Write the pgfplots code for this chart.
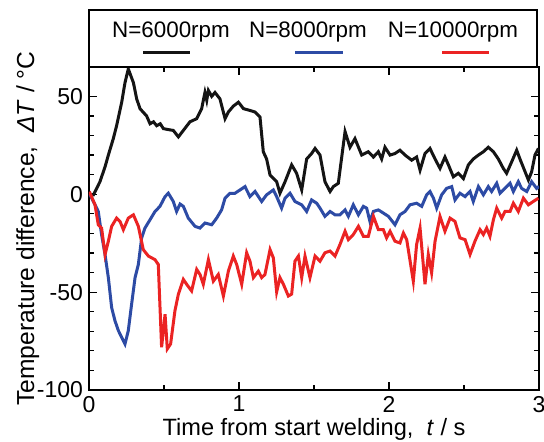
\documentclass[border=0pt]{standalone}
\usepackage{fontspec}
\setmainfont{Liberation Sans}
\usepackage{pgfplots}
\pgfplotsset{compat=1.18}

\definecolor{c6k}{RGB}{20,20,20}
\definecolor{c8k}{RGB}{45,75,165}
\definecolor{c10k}{RGB}{235,35,35}

\begin{document}
\fontsize{11.5}{14}\selectfont
\begin{tikzpicture}
\path[use as bounding box] (-44.5pt,-26pt) rectangle (227.5pt,195pt);
\begin{axis}[
  at={(0pt,0pt)}, anchor=south west,
  scale only axis,
  width=225pt, height=161.5pt,
  xmin=0, xmax=3, ymin=-100, ymax=65,
  xtick={0,1,2,3}, ytick={-100,-50,0,50},
  minor x tick num=1, minor y tick num=4,
  tick align=inside,
  major tick length=4pt, minor tick length=2.5pt,
  axis line style={line width=0.7pt},
  every tick/.style={line width=0.6pt, black},
  /pgf/number format/assume math mode=true,
  ticklabel style={font=\fontsize{11.5}{14}\selectfont},
  xlabel style={font=\fontsize{11.8}{14}\selectfont, yshift=5pt},
  ylabel style={font=\fontsize{12.3}{14}\selectfont, yshift=-9pt},
  xticklabel style={yshift=1pt},
  yticklabel style={xshift=1pt},
  xlabel={Time from start welding,\ \ \textit{t} / s},
  ylabel={Temperature difference,\ \ \textit{ΔT} / °C},
  clip=true,
]
% N=6000rpm
\addplot[c6k, line width=1.5pt] coordinates {
(0,0) (0.03,-0.3) (0.073,6.4) (0.107,14) (0.129,20) (0.162,28.4) (0.184,35) (0.218,47) (0.24,57) (0.262,64)
(0.296,57) (0.318,48.7) (0.34,43.7) (0.384,40) (0.407,36) (0.43,37) (0.451,35) (0.475,36) (0.496,33.5) (0.53,33)
(0.562,32.6) (0.596,29.3) (0.629,32.6) (0.673,37) (0.718,38.6) (0.751,43.7) (0.773,52) (0.785,48) (0.796,53) (0.818,50)
(0.84,52) (0.873,48.7) (0.907,38.6) (0.929,42) (0.962,45) (0.996,47) (1.03,43.7) (1.073,42.8) (1.107,42) (1.14,39.4)
(1.162,21.7) (1.184,18) (1.207,9.8) (1.251,6.4) (1.273,0.5) (1.307,6.4) (1.351,15) (1.384,10.7) (1.418,2.2) (1.451,18)
(1.484,20.8) (1.507,23.4) (1.54,20) (1.573,6.4) (1.607,1.4) (1.629,3.9) (1.662,5.6) (1.707,32) (1.74,24) (1.773,28.4)
(1.818,20) (1.862,21.7) (1.896,19) (1.929,21.7) (1.951,18) (1.973,24) (2.007,20) (2.04,20.8) (2.073,22.5) (2.107,20)
(2.151,17.4) (2.184,19) (2.207,12.3) (2.24,20.8) (2.273,23.4) (2.307,18) (2.34,13.2) (2.373,19) (2.396,15) (2.429,8.9)
(2.462,10.7) (2.496,8) (2.529,15) (2.562,18) (2.596,20) (2.629,21.7) (2.662,24) (2.696,21.7) (2.729,18) (2.762,13.2)
(2.784,10.7) (2.818,16.6) (2.851,22.5) (2.873,18) (2.907,11.5) (2.929,7.3) (2.951,11.5) (2.973,20) (2.996,23.4)
};
% N=8000rpm
\addplot[c8k, line width=1.5pt] coordinates {
(0,0) (0.007,-0.3) (0.04,-5.4) (0.062,-8.8) (0.084,-20.7) (0.107,-30.8) (0.129,-42.6) (0.151,-57.9) (0.173,-64.6) (0.196,-69.7)
(0.218,-73.1) (0.24,-76.5) (0.262,-69.7) (0.284,-56.2) (0.307,-42.6) (0.329,-35.9) (0.351,-22.3) (0.373,-17.3) (0.407,-13) (0.44,-8.8)
(0.473,-6.2) (0.507,-1.2) (0.529,0.5) (0.562,-3.7) (0.584,-8.8) (0.607,-5) (0.629,-6.2) (0.662,-12.2) (0.707,-16.4) (0.74,-17.3)
(0.773,-14.7) (0.818,-15.6) (0.851,-12.2) (0.884,-8) (0.907,-2) (0.94,0.5) (0.973,0.5) (1.007,2.2) (1.04,3.9) (1.073,-1.2)
(1.107,1.4) (1.151,-3.7) (1.184,-0.3) (1.229,2.2) (1.251,-1.2) (1.284,-7.1) (1.307,-2) (1.34,0.5) (1.373,-3.7) (1.418,-5.4)
(1.451,-8.8) (1.484,-2.9) (1.518,-4.6) (1.54,-7.1) (1.573,-11.3) (1.607,-8.8) (1.64,-10.5) (1.673,-10.5) (1.707,-8) (1.729,-11.3)
(1.762,-5.4) (1.796,-10.5) (1.829,-6.2) (1.851,-7.1) (1.873,-13.9) (1.896,-8.8) (1.929,-8) (1.962,-9.6) (1.996,-11.3) (2.04,-15.6)
(2.073,-10.5) (2.107,-8.8) (2.14,-5.4) (2.184,-4.6) (2.218,-6.2) (2.251,-0.3) (2.273,1.4) (2.296,-2) (2.318,-7.1) (2.351,-0.3)
(2.384,3) (2.418,3.9) (2.44,-2.9) (2.473,0.5) (2.507,-1.2) (2.54,1.4) (2.562,-3.7) (2.596,3.9) (2.629,-0.3) (2.662,3.9)
(2.684,1.4) (2.718,5.6) (2.74,0.5) (2.773,3) (2.807,5.6) (2.829,1.4) (2.862,6.4) (2.884,3) (2.918,1.4) (2.951,6.4) (2.984,3) (3,4)
};
% N=10000rpm
\addplot[c10k, line width=1.5pt] coordinates {
(0,0) (0.007,0.5) (0.04,-5.4) (0.062,-15.6) (0.084,-17.3) (0.107,-30.8) (0.129,-24) (0.151,-16.4) (0.184,-12.2) (0.207,-13.9)
(0.229,-18.1) (0.262,-12.2) (0.296,-10.5) (0.329,-16.4) (0.362,-28.3) (0.396,-31.6) (0.44,-33.4) (0.462,-35.9) (0.484,-78.2) (0.507,-61.3)
(0.522,-79) (0.544,-76.5) (0.573,-59.5) (0.596,-51) (0.629,-43.5) (0.651,-46) (0.684,-49.4) (0.718,-38.4) (0.74,-41) (0.762,-46)
(0.796,-33.4) (0.829,-44.4) (0.862,-41) (0.896,-52) (0.929,-39.3) (0.962,-31.6) (0.985,-36) (1.018,-46) (1.051,-29.9) (1.073,-34.2)
(1.096,-42.6) (1.129,-39.3) (1.151,-42.6) (1.173,-41) (1.207,-28.3) (1.229,-32.5) (1.251,-49.9) (1.273,-42.6) (1.296,-46) (1.329,-52)
(1.351,-51) (1.373,-34.2) (1.396,-31.6) (1.418,-42.6) (1.44,-31.6) (1.473,-42.6) (1.507,-31.6) (1.54,-34.2) (1.573,-29.9) (1.607,-29)
(1.64,-31.6) (1.673,-25.7) (1.707,-18.9) (1.729,-23.2) (1.762,-20.6) (1.796,-16.4) (1.829,-21.5) (1.862,-21.5) (1.896,-11.3) (1.929,-18.1)
(1.962,-18.1) (1.984,-22.3) (2.007,-18.9) (2.04,-24) (2.073,-24.9) (2.096,-19.8) (2.118,-23.2) (2.162,-44.4) (2.184,-25.7) (2.207,-17.3)
(2.24,-46) (2.262,-30.8) (2.284,-40.1) (2.307,-24) (2.34,-11.3) (2.373,-18.9) (2.407,-12.2) (2.44,-13.9) (2.473,-22.3) (2.507,-23.2)
(2.54,-30.8) (2.573,-24) (2.607,-18.1) (2.629,-20.6) (2.651,-17.3) (2.673,-21.5) (2.696,-13) (2.718,-7.1) (2.751,-12.2) (2.773,-8.8)
(2.807,-8.8) (2.829,-4.6) (2.862,-8.8) (2.896,-2) (2.929,-5.4) (2.962,-3.7) (2.996,-2)
};
\end{axis}
% legend box above the axis
\draw[line width=0.7pt] (0pt,161.5pt) rectangle (224pt,190pt);
\begin{scope}[every node/.style={font=\fontsize{11.2}{14}\selectfont}]
\node at (41pt,179pt) {N=6000rpm};
\node at (109.5pt,179pt) {N=8000rpm};
\node at (182pt,179pt) {N=10000rpm};
\end{scope}
\draw[c6k, line width=1.5pt] (27pt,168.5pt) -- (50.5pt,168.5pt);
\draw[c8k, line width=1.5pt] (103pt,168.5pt) -- (127pt,168.5pt);
\draw[c10k, line width=1.5pt] (176.5pt,168.5pt) -- (200pt,168.5pt);
\end{tikzpicture}
\end{document}
